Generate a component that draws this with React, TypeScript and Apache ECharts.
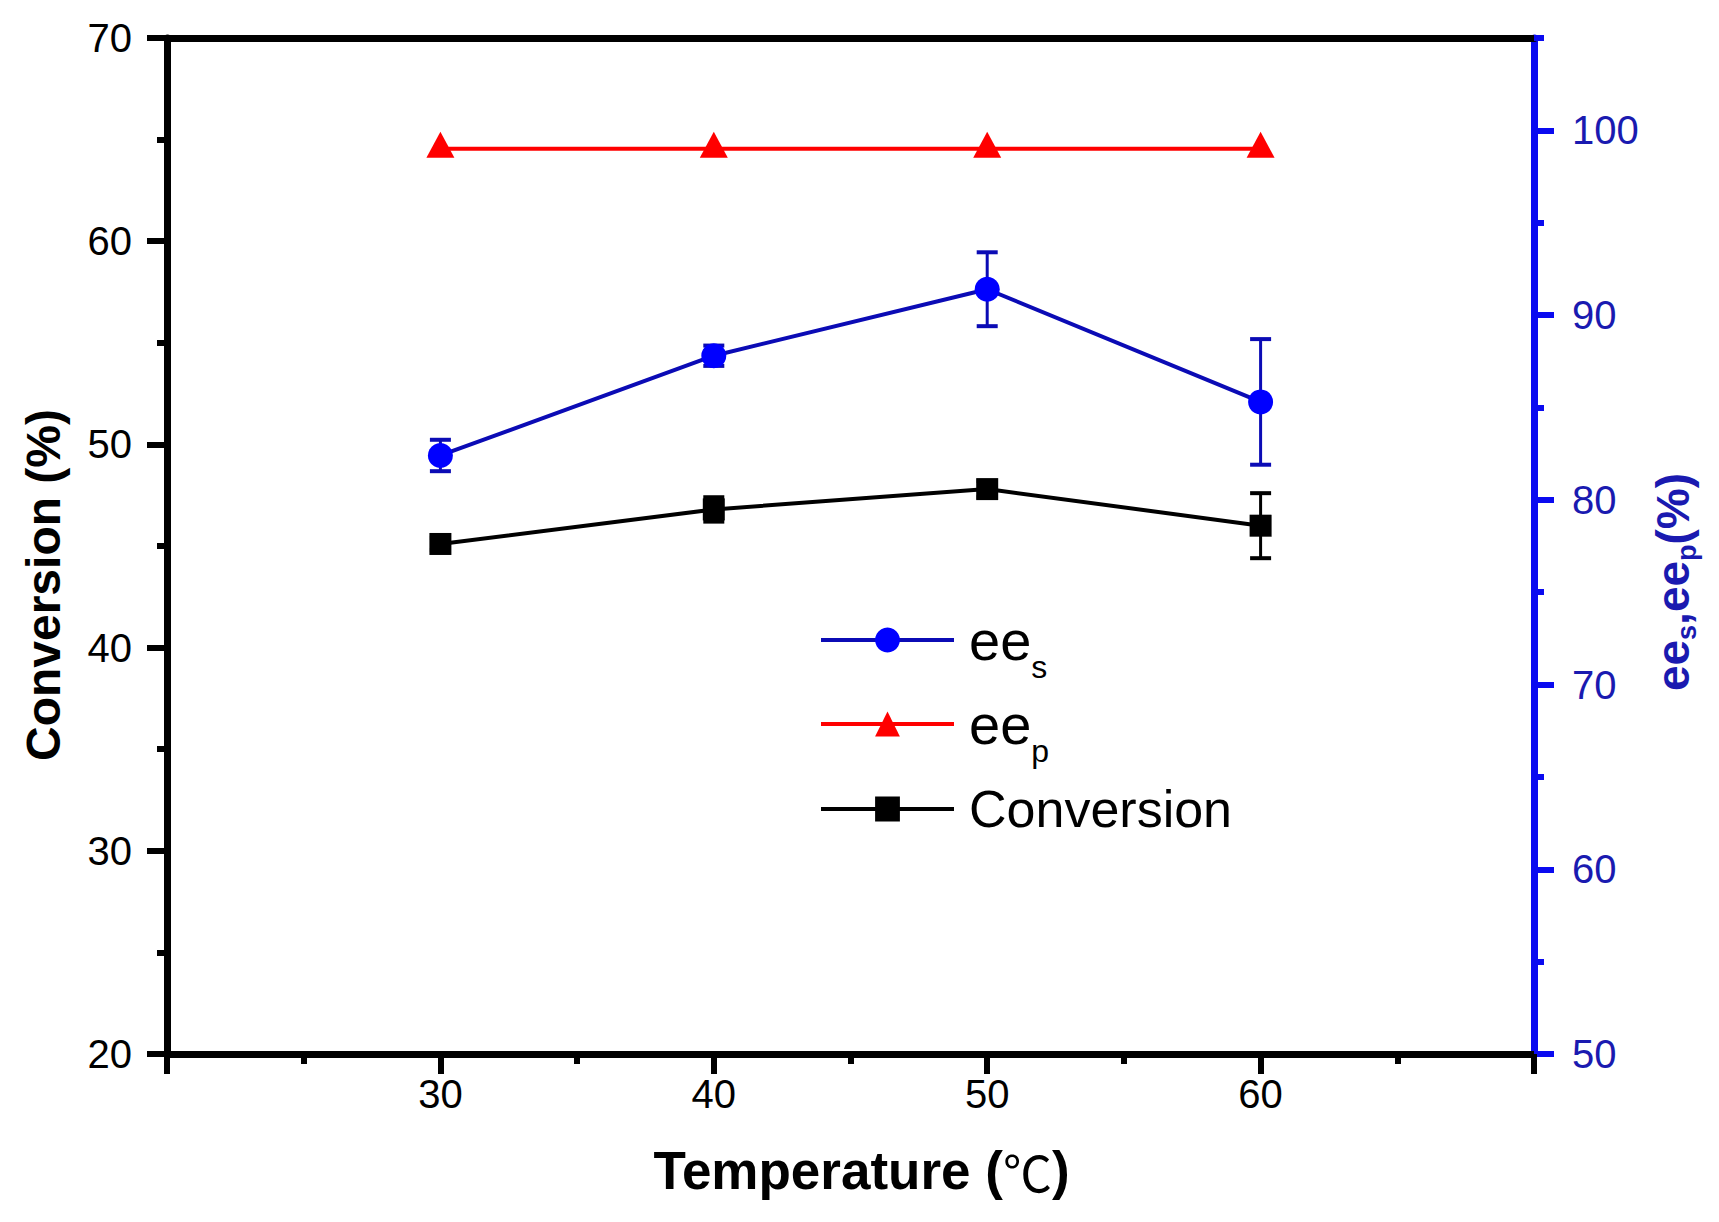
import { useEffect, useRef } from "react";
import * as echarts from "echarts";

// Values
const temperatures = [30, 40, 50, 60];
const conversion = [45.1, 46.8, 47.8, 46.0];
const conversionErr = [0.3, 0.6, 0.4, 1.6];
const eeS = [82.4, 87.8, 91.4, 85.3];
const eeSErr = [0.85, 0.55, 2.0, 3.4];
const eeP = [99.0, 99.0, 99.0, 99.0];

const rightMajorTicks = [50, 60, 70, 80, 90, 100];
const rightMinorTicks = [55, 65, 75, 85, 95, 105];

const FONT = "Arial, 'Liberation Sans', sans-serif";
const BLUE_AXIS = "#0a0af0";
const BLUE_TEXT = "#1a1ab0";
const BLUE_LINE = "#0b0bb5";

const LEGEND_TEXT: Record<string, string> = {
  ee_s: "{b|ee}{s|s}",
  ee_p: "{b|ee}{s|p}",
  Conversion: "{c|Conversion}",
};

function errorBars(name: string, yAxisIndex: number, values: number[], errors: number[], color: string) {
  return {
    type: "custom" as const,
    name,
    xAxisIndex: 0,
    yAxisIndex,
    z: 1,
    silent: true,
    data: temperatures.map((t, i) => [t, values[i] - errors[i], values[i] + errors[i]]),
    encode: { x: 0, y: [1, 2] },
    renderItem: (_params: any, api: any) => {
      const top = api.coord([api.value(0), api.value(2)]);
      const bottom = api.coord([api.value(0), api.value(1)]);
      const cap = 10.5;
      const stem = { stroke: color, lineWidth: 3 };
      const capStyle = { stroke: color, lineWidth: 4 };
      return {
        type: "group",
        children: [
          { type: "line", shape: { x1: top[0], y1: top[1], x2: bottom[0], y2: bottom[1] }, style: stem },
          { type: "line", shape: { x1: top[0] - cap, y1: top[1], x2: top[0] + cap, y2: top[1] }, style: capStyle },
          { type: "line", shape: { x1: bottom[0] - cap, y1: bottom[1], x2: bottom[0] + cap, y2: bottom[1] }, style: capStyle },
        ],
      };
    },
  };
}

export default function App() {
  const chartRef = useRef<HTMLDivElement>(null);

  useEffect(() => {
    document.body.style.margin = "0";
    if (!chartRef.current) return;
    const chart = echarts.init(chartRef.current, undefined, { renderer: "svg" });

    chart.setOption({
      animation: false,
      backgroundColor: "#fff",
      grid: { left: 167, right: 185, top: 38, bottom: 168, outerBoundsMode: "none" },
      legend: {
        data: ["ee_s", "ee_p", "Conversion"],
        orient: "vertical",
        left: 819,
        top: 599,
        padding: 0,
        itemGap: 0,
        itemWidth: 133,
        itemHeight: 31,
        selectedMode: false,
        lineStyle: { width: 4 },
        formatter: (n: string) => LEGEND_TEXT[n] ?? n,
        textStyle: {
          padding: [0, 0, 0, 10],
          rich: {
            b: { fontFamily: FONT, fontSize: 56, lineHeight: 82, color: "#000" },
            s: { fontFamily: FONT, fontSize: 32, lineHeight: 32, verticalAlign: "top", padding: [52, 0, 0, 0], color: "#000" },
            c: { fontFamily: FONT, fontSize: 52, lineHeight: 52, padding: [16, 0, 16, 0], color: "#000" },
          },
        },
      },
      xAxis: [
        {
          type: "value",
          position: "bottom",
          min: 20,
          max: 70,
          interval: 10,
          name: "{b|Temperature (}{n|℃}{b|)}",
          nameLocation: "middle",
          nameGap: 90,
          nameTextStyle: {
            padding: [0, 0, 0, 22],
            rich: {
              b: { fontFamily: FONT, fontSize: 53, fontWeight: "bold", color: "#000" },
              n: { fontFamily: "'Noto Sans CJK SC'", fontSize: 49, fontWeight: "normal", color: "#000" },
            },
          },
          axisLine: { show: true, onZero: false, lineStyle: { color: "#000", width: 7 } },
          axisTick: { show: true, length: 20, lineStyle: { color: "#000", width: 6 } },
          minorTick: { show: true, splitNumber: 2, length: 10, lineStyle: { color: "#000", width: 6 } },
          axisLabel: {
            margin: 20,
            fontFamily: FONT,
            fontSize: 40,
            color: "#000",
            formatter: (v: number) => (v === 20 || v === 70 ? "" : String(v)),
          },
          splitLine: { show: false },
        },
        {
          type: "value",
          position: "top",
          min: 20,
          max: 70,
          axisLine: { show: true, onZero: false, lineStyle: { color: "#000", width: 7 } },
          axisTick: { show: false },
          axisLabel: { show: false },
          splitLine: { show: false },
        },
      ],
      yAxis: [
        {
          type: "value",
          position: "left",
          min: 20,
          max: 70,
          interval: 10,
          name: "Conversion (%)",
          nameLocation: "middle",
          nameRotate: 90,
          nameGap: 100,
          nameTextStyle: {
            fontFamily: FONT,
            fontSize: 48,
            fontWeight: "bold",
            color: "#000",
            padding: [0, 78, 0, 0],
          },
          axisLine: { show: true, onZero: false, lineStyle: { color: "#000", width: 7 } },
          axisTick: { show: true, length: 20, lineStyle: { color: "#000", width: 6 } },
          minorTick: { show: true, splitNumber: 2, length: 10, lineStyle: { color: "#000", width: 6 } },
          axisLabel: { margin: 35, fontFamily: FONT, fontSize: 40, color: "#000" },
          splitLine: { show: false },
        },
        {
          type: "value",
          position: "right",
          min: 50,
          max: 105,
          name: "{b|ee}{s|s}{b|,ee}{s|p}{b|(%)}",
          nameLocation: "middle",
          nameRotate: 90,
          nameGap: 107,
          nameTextStyle: {
            padding: [0, 72, 0, 0],
            rich: {
              b: { fontFamily: FONT, fontSize: 46, fontWeight: "bold", lineHeight: 56, color: BLUE_TEXT },
              s: { fontFamily: FONT, fontSize: 27, fontWeight: "bold", lineHeight: 26, verticalAlign: "bottom", color: BLUE_TEXT },
            },
          },
          axisLine: { show: true, onZero: false, lineStyle: { color: BLUE_AXIS, width: 7 } },
          axisTick: { show: true, customValues: rightMajorTicks, length: 20, lineStyle: { color: BLUE_AXIS, width: 6 } },
          axisLabel: { customValues: rightMajorTicks, margin: 38, fontFamily: FONT, fontSize: 40, color: BLUE_TEXT },
          splitLine: { show: false },
        },
        {
          type: "value",
          position: "right",
          min: 50,
          max: 105,
          axisLine: { show: false },
          axisTick: { show: true, customValues: rightMinorTicks, length: 10, lineStyle: { color: BLUE_AXIS, width: 6 } },
          axisLabel: { show: false },
          splitLine: { show: false },
        },
      ],
      series: [
        errorBars("ee_s error", 1, eeS, eeSErr, BLUE_LINE),
        errorBars("Conversion error", 0, conversion, conversionErr, "#000"),
        {
          name: "ee_s",
          type: "line",
          xAxisIndex: 0,
          yAxisIndex: 1,
          data: temperatures.map((t, i) => [t, eeS[i]]),
          symbol: "circle",
          symbolSize: 25,
          lineStyle: { color: BLUE_LINE, width: 4 },
          itemStyle: { color: "#0000ff", borderWidth: 0 },
          z: 3,
        },
        {
          name: "ee_p",
          type: "line",
          xAxisIndex: 0,
          yAxisIndex: 1,
          data: temperatures.map((t, i) => [t, eeP[i]]),
          symbol: "triangle",
          symbolSize: [28, 26],
          symbolOffset: [0, -4],
          lineStyle: { color: "#ff0000", width: 4 },
          itemStyle: { color: "#ff0000", borderWidth: 0 },
          z: 3,
        },
        {
          name: "Conversion",
          type: "line",
          xAxisIndex: 0,
          yAxisIndex: 0,
          data: temperatures.map((t, i) => [t, conversion[i]]),
          symbol: "rect",
          symbolSize: 22,
          lineStyle: { color: "#000", width: 4 },
          itemStyle: { color: "#000", borderWidth: 0 },
          z: 3,
        },
      ],
    });

    return () => chart.dispose();
  }, []);

  return <div ref={chartRef} style={{ width: 1719, height: 1222 }} />;
}
